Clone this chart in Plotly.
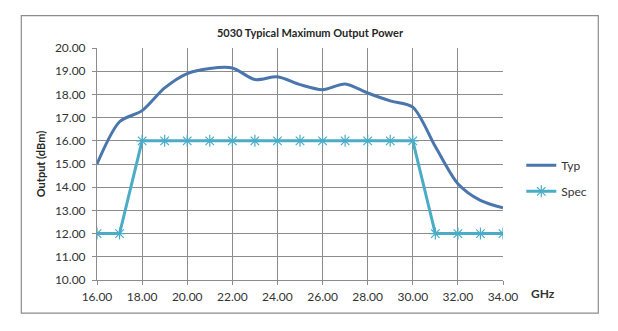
import plotly.graph_objects as go

# Frequency points (GHz) and measured / specified output power (dBm)
freq_ghz = [16, 17, 18, 19, 20, 21, 22, 23, 24, 25, 26, 27, 28, 29, 30, 31, 32, 33, 34]
typ_dbm = [15.0, 16.82, 17.3, 18.28, 18.9, 19.12, 19.14, 18.64, 18.76, 18.42, 18.2,
           18.45, 18.06, 17.72, 17.45, 15.75, 14.15, 13.43, 13.11]
spec_dbm = [12, 12, 16, 16, 16, 16, 16, 16, 16, 16, 16, 16, 16, 16, 16, 12, 12, 12, 12]

x_ticks = [16, 18, 20, 22, 24, 26, 28, 30, 32, 34]
y_ticks = [10, 11, 12, 13, 14, 15, 16, 17, 18, 19, 20]

W, H = 618, 331
L, R, T, B = 96.7, 502.7, 48.3, 280.0
FONT = "Lato"
TXT = "#333333"

fig = go.Figure()
fig.add_trace(go.Scatter(
    x=freq_ghz, y=typ_dbm, name="Typ", mode="lines", legendgroup="typ",
    line=dict(color="#4A75AD", width=3, shape="spline", smoothing=0.8),
))
fig.add_trace(go.Scatter(
    x=freq_ghz, y=spec_dbm, name="Spec", mode="lines+markers", legendgroup="spec",
    line=dict(color="#4BACC6", width=3),
    marker=dict(symbol="asterisk-open", size=10, color="#4BACC6",
                line=dict(color="#4BACC6", width=1.2)),
))

def px_x(px):
    return (px - L) / (R - L)

def px_y(py):
    return (B - py) / (B - T)

# outer chart frame
fig.add_shape(type="rect", xref="paper", yref="paper",
              x0=px_x(21), x1=px_x(598), y0=px_y(313), y1=px_y(16),
              line=dict(color="#8C8C8C", width=1.2), fillcolor="rgba(0,0,0,0)")

fig.add_annotation(text="<b>GHz</b>", xref="paper", yref="paper",
                   x=px_x(543), y=px_y(293), xanchor="center", yanchor="middle",
                   showarrow=False,
                   font=dict(family=FONT, size=12, color=TXT))

fig.update_layout(
    width=W, height=H,
    margin=dict(l=L, r=W - R, t=T, b=H - B),
    paper_bgcolor="white", plot_bgcolor="white",
    title=dict(text="<b>5030 Typical Maximum Output Power</b>",
               xref="container", x=310 / W, xanchor="center",
               yref="container", y=1 - 33 / H, yanchor="middle",
               font=dict(family=FONT, size=11, color="#262626")),
    font=dict(family=FONT, size=12, color=TXT),
    legend=dict(x=px_x(521), y=px_y(151), xanchor="left", yanchor="top",
                font=dict(family=FONT, size=12, color=TXT),
                bgcolor="rgba(0,0,0,0)", itemwidth=30,
                traceorder="grouped", tracegroupgap=7),
    xaxis=dict(range=[16, 34], tickvals=x_ticks, ticktext=[f"{v:.2f}" for v in x_ticks],
               showgrid=True, gridcolor="#8C8C8C", gridwidth=1,
               showline=True, linecolor="#8C8C8C", linewidth=1,
               ticks="outside", ticklen=4, tickcolor="#8C8C8C", zeroline=False,
               ticklabelstandoff=2,
               tickfont=dict(family=FONT, size=12, color=TXT)),
    yaxis=dict(range=[10, 20], tickvals=y_ticks, ticktext=[f"{v:.2f}" for v in y_ticks],
               showgrid=True, gridcolor="#8C8C8C", gridwidth=1,
               showline=True, linecolor="#8C8C8C", linewidth=1,
               ticks="outside", ticklen=4, tickcolor="#8C8C8C", zeroline=False,
               ticklabelstandoff=4,
               tickfont=dict(family=FONT, size=12, color=TXT),
               title=dict(text="<b>Output (dBm)</b>", standoff=7,
                          font=dict(family=FONT, size=11, color="#262626"))),
)

fig.write_html("out.html")
